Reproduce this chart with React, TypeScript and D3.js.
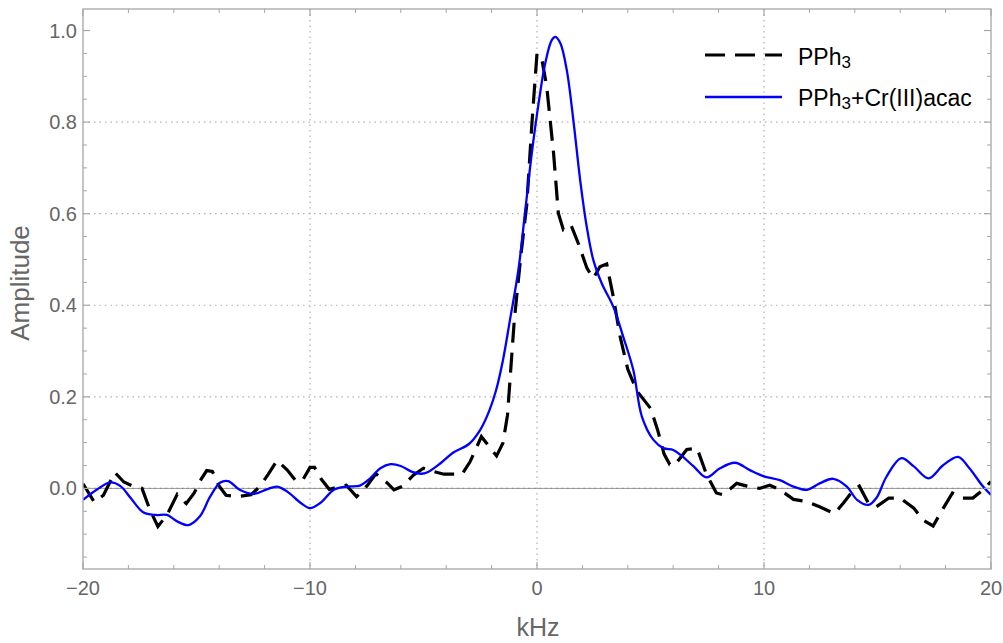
import React from "react";
import * as d3 from "d3";

// PPh3 (black dashed) : [kHz, amplitude]
const pph3: [number, number][] = [
  [-20.0, 0.01], [-19.5, -0.03], [-19.1, -0.015], [-18.6, 0.035], [-18.2, 0.014],
  [-17.8, 0.005], [-17.4, 0.0], [-17.05, -0.047], [-16.7, -0.083], [-16.3, -0.058],
  [-15.85, -0.013], [-15.45, -0.033], [-15.1, -0.01], [-14.8, 0.02], [-14.55, 0.039],
  [-14.3, 0.037], [-14.0, 0.005], [-13.7, -0.015], [-13.2, -0.018], [-12.6, -0.014],
  [-12.2, 0.005], [-11.85, 0.03], [-11.45, 0.061], [-11.0, 0.04], [-10.65, 0.018],
  [-10.35, 0.016], [-10.0, 0.046], [-9.8, 0.046], [-9.5, 0.02], [-9.15, -0.002],
  [-8.7, 0.004], [-8.4, 0.007], [-7.95, -0.018], [-7.5, 0.005], [-7.1, 0.032],
  [-6.6, 0.012], [-6.3, -0.003], [-5.9, 0.005], [-5.45, 0.029], [-5.0, 0.044],
  [-4.55, 0.037], [-4.1, 0.031], [-3.3, 0.031], [-2.95, 0.058], [-2.45, 0.113],
  [-1.78, 0.071], [-1.5, 0.099], [-1.3, 0.16], [-1.0, 0.368], [-0.7, 0.513],
  [-0.45, 0.62], [-0.22, 0.8], [0.0, 0.95], [0.22, 0.935], [0.43, 0.877],
  [0.73, 0.732], [0.94, 0.601], [1.16, 0.565], [1.5, 0.575], [1.82, 0.535],
  [2.2, 0.481], [2.48, 0.459], [2.77, 0.484], [3.07, 0.49], [3.36, 0.419],
  [3.66, 0.332], [4.0, 0.26], [4.4, 0.213], [5.0, 0.175], [5.3, 0.13],
  [5.6, 0.075], [5.85, 0.052], [6.05, 0.05], [6.6, 0.085], [7.05, 0.088],
  [7.45, 0.033], [7.9, -0.01], [8.2, -0.014], [8.8, 0.011], [9.25, 0.005],
  [9.8, 0.0], [10.25, 0.007], [10.7, -0.003], [11.3, -0.024], [11.9, -0.029],
  [12.45, -0.04], [13.1, -0.055], [13.5, -0.032], [13.95, -0.003], [14.2, 0.005],
  [14.6, -0.032], [14.95, -0.04], [15.5, -0.021], [16.0, -0.021], [16.6, -0.043],
  [17.0, -0.069], [17.45, -0.082], [17.9, -0.043], [18.3, -0.01], [18.75, -0.021],
  [19.2, -0.021], [19.65, -0.003], [20.0, 0.015],
];

// PPh3 + Cr(III)acac (blue solid)
const pph3Cr: [number, number][] = [
  [-20.0, -0.025], [-19.4, -0.003], [-18.8, 0.013], [-18.35, 0.005], [-17.9, -0.021],
  [-17.35, -0.052], [-16.8, -0.058], [-16.3, -0.058], [-15.85, -0.072], [-15.35, -0.08],
  [-14.85, -0.061], [-14.4, -0.018], [-13.95, 0.013], [-13.6, 0.016], [-13.1, -0.003],
  [-12.5, -0.012], [-11.9, -0.002], [-11.45, 0.004], [-11.0, -0.007], [-10.4, -0.032],
  [-10.0, -0.043], [-9.55, -0.032], [-8.95, -0.003], [-8.4, 0.004], [-7.8, 0.006],
  [-7.35, 0.022], [-6.9, 0.044], [-6.45, 0.053], [-6.0, 0.049], [-5.5, 0.036],
  [-5.1, 0.032], [-4.8, 0.036], [-4.25, 0.055], [-3.7, 0.078], [-3.0, 0.097],
  [-2.5, 0.128], [-2.1, 0.17], [-1.8, 0.215], [-1.5, 0.28], [-1.19, 0.368], [-0.82, 0.477],
  [-0.53, 0.601], [-0.23, 0.732], [0.07, 0.841], [0.36, 0.928], [0.65, 0.979],
  [0.81, 0.986], [1.03, 0.972], [1.31, 0.914], [1.6, 0.805], [1.9, 0.674],
  [2.19, 0.572], [2.48, 0.499], [2.85, 0.448], [3.36, 0.397], [3.8, 0.331],
  [4.24, 0.259], [4.62, 0.157], [5.13, 0.106], [5.57, 0.088], [6.0, 0.084],
  [6.35, 0.072], [6.9, 0.048], [7.47, 0.024], [8.06, 0.044], [8.72, 0.056],
  [9.38, 0.04], [9.97, 0.027], [10.7, 0.018], [11.3, 0.004], [11.9, -0.003],
  [12.45, 0.011], [13.05, 0.021], [13.65, 0.004], [14.1, -0.025], [14.6, -0.036],
  [14.95, -0.021], [15.4, 0.026], [16.05, 0.066], [16.6, 0.048], [17.25, 0.022],
  [17.9, 0.051], [18.55, 0.069], [19.05, 0.044], [19.65, 0.004], [20.0, -0.014],
];

const xMajor = [-20, -10, 0, 10, 20];
const xMinor = [-18, -16, -14, -12, -8, -6, -4, -2, 2, 4, 6, 8, 12, 14, 16, 18];
const yMajor = [0, 0.2, 0.4, 0.6, 0.8, 1.0];
const yMinor = [-0.15, -0.1, -0.05, 0.05, 0.1, 0.15, 0.25, 0.3, 0.35, 0.45, 0.5, 0.55, 0.65, 0.7, 0.75, 0.85, 0.9, 0.95];
const xGrid = [-10, 0, 10];
const yGrid = [0.2, 0.4, 0.6, 0.8];
const xTickLabels = ["\u221220", "\u221210", "0", "10", "20"];
const yTickLabels = ["0.0", "0.2", "0.4", "0.6", "0.8", "1.0"];

const W = 1003, H = 643;
const L = 83, R = 991, T = 9, B = 569;
const FONT = "'Liberation Sans', Arial, Helvetica, sans-serif";
const TXT = "#666";
const FRAME = "#a6a6a6";

export default function App() {
  const x = d3.scaleLinear().domain([-20, 20]).range([L, R]);
  const y = d3.scaleLinear().domain([-0.176, 1.047]).range([B, T]);
  const lineBlack = d3.line<[number, number]>().x(d => x(d[0])).y(d => y(d[1]));
  const lineBlue = d3.line<[number, number]>().x(d => x(d[0])).y(d => y(d[1])).curve(d3.curveCatmullRom.alpha(0.5));

  const majLen = 7, minLen = 4;
  return (
    <svg width={W} height={H} style={{ position: "absolute", left: 0, top: 0 }} fontFamily={FONT}>
      <rect x={0} y={0} width={W} height={H} fill="#fff" />
      <defs>
        <clipPath id="plotclip"><rect x={L} y={T} width={R - L} height={B - T} /></clipPath>
      </defs>
      {/* grid */}
      {xGrid.map(v => (
        <line key={"gx" + v} x1={x(v)} x2={x(v)} y1={T} y2={B} stroke="#b0b0b0" strokeWidth={1.2} strokeDasharray="1.5,4" />
      ))}
      {yGrid.map(v => (
        <line key={"gy" + v} x1={L} x2={R} y1={y(v)} y2={y(v)} stroke="#b0b0b0" strokeWidth={1.2} strokeDasharray="1.5,4" />
      ))}
      {/* zero axis */}
      <line x1={L} x2={R} y1={y(0)} y2={y(0)} stroke="#999" strokeWidth={1} />
      <line x1={L} x2={R} y1={y(0)} y2={y(0)} stroke="#888" strokeWidth={1.2} strokeDasharray="1.5,4" />
      {/* curves */}
      <g clipPath="url(#plotclip)">
        <path d={lineBlack(pph3) || ""} fill="none" stroke="#000" strokeWidth={3.2} strokeDasharray="20,10" strokeLinejoin="miter" />
        <path d={lineBlue(pph3Cr) || ""} fill="none" stroke="#0000ff" strokeWidth={2.3} />
      </g>
      {/* frame */}
      <rect x={L} y={T} width={R - L} height={B - T} fill="none" stroke={FRAME} strokeWidth={1.3} />
      {/* ticks */}
      {xMajor.map(v => (
        <g key={"xM" + v}>
          <line x1={x(v)} x2={x(v)} y1={B} y2={B - majLen} stroke={FRAME} strokeWidth={1.2} />
          <line x1={x(v)} x2={x(v)} y1={T} y2={T + majLen} stroke={FRAME} strokeWidth={1.2} />
        </g>
      ))}
      {xMinor.map(v => (
        <g key={"xm" + v}>
          <line x1={x(v)} x2={x(v)} y1={B} y2={B - minLen} stroke={FRAME} strokeWidth={1} />
          <line x1={x(v)} x2={x(v)} y1={T} y2={T + minLen} stroke={FRAME} strokeWidth={1} />
        </g>
      ))}
      {yMajor.map(v => (
        <g key={"yM" + v}>
          <line x1={L} x2={L + majLen} y1={y(v)} y2={y(v)} stroke={FRAME} strokeWidth={1.2} />
          <line x1={R} x2={R - majLen} y1={y(v)} y2={y(v)} stroke={FRAME} strokeWidth={1.2} />
        </g>
      ))}
      {yMinor.map(v => (
        <g key={"ym" + v}>
          <line x1={L} x2={L + minLen} y1={y(v)} y2={y(v)} stroke={FRAME} strokeWidth={1} />
          <line x1={R} x2={R - minLen} y1={y(v)} y2={y(v)} stroke={FRAME} strokeWidth={1} />
        </g>
      ))}
      {/* tick labels */}
      {xMajor.map((v, i) => (
        <text key={"xl" + v} x={x(v)} y={595} textAnchor="middle" fontSize={20} fill={TXT}>{xTickLabels[i]}</text>
      ))}
      {yMajor.map((v, i) => (
        <text key={"yl" + v} x={77} y={y(v) + 7} textAnchor="end" fontSize={20} fill={TXT}>{yTickLabels[i]}</text>
      ))}
      {/* axis labels */}
      <text x={538} y={636} textAnchor="middle" fontSize={25} fill={TXT}>kHz</text>
      <text transform="translate(29,283) rotate(-90)" textAnchor="middle" fontSize={26} fill={TXT}>Amplitude</text>
      {/* legend */}
      <line x1={705} x2={782} y1={55} y2={55} stroke="#000" strokeWidth={3.2} strokeDasharray="20,10" />
      <text x={798} y={65} fontSize={23} fill="#000">
        PPh<tspan fontSize={17} dy={3}>3</tspan>
      </text>
      <line x1={705} x2={782} y1={97} y2={97} stroke="#0000ff" strokeWidth={2.3} />
      <text x={798} y={106} fontSize={23} fill="#000">
        PPh<tspan fontSize={17} dy={3}>3</tspan><tspan dy={-3}>+Cr(III)acac</tspan>
      </text>
    </svg>
  );
}
